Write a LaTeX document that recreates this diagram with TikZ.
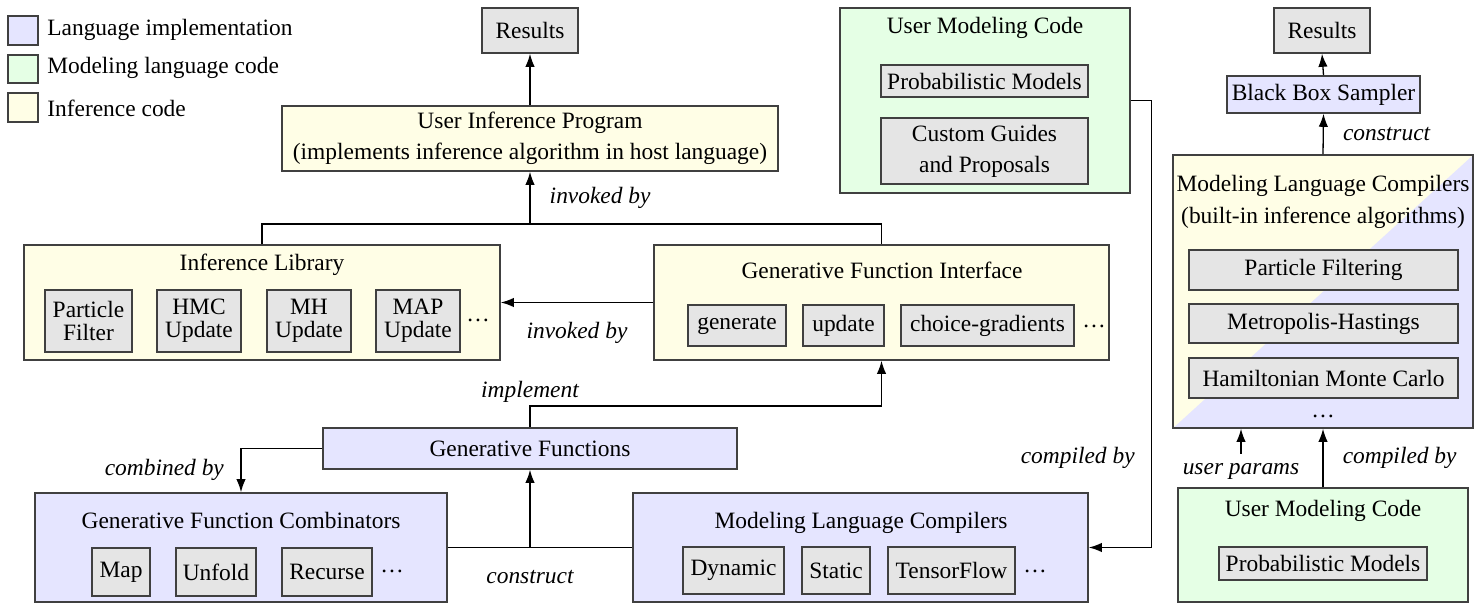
\documentclass[tikz,border=0pt]{standalone}
\usepackage{fontspec}
\setmainfont{Liberation Serif}
\usepackage{tikz}
\usepackage{xcolor}
\usetikzlibrary{arrows.meta}

\newcommand\unitpx{0.0135cm}
\newcommand\figfont{\fontsize{9}{12}\selectfont}

\tikzset{
	box/.style={draw=black!75, line width=0.6pt, inner sep=0pt, align=center},
	sz/.style 2 args={minimum width=#1*\unitpx, minimum height=#2*\unitpx},
	langimpl/.style={box, fill=blue!10},
	modcode/.style={box, fill=green!10},
	infcode/.style={box, fill=yellow!10},
	item/.style={box, fill=black!10},
	splitfill/.style={box, fill=blue!10, path picture={
		\fill[yellow!10] (path picture bounding box.south west) -- (path picture bounding box.north west)
		-- (path picture bounding box.north east) -- cycle;}},
	lbl/.style={font=\figfont\itshape},
	>={Latex[length=5pt,width=3.6pt]}
}

\begin{document}
\begin{tikzpicture}[x=\unitpx, y=-\unitpx, font=\figfont, line width=0.5pt]
		\useasboundingbox (0,0) rectangle (1475,609);
		% legend
		\node[langimpl, sz={30}{29}] (keyimpl) at (23,30.5) {};
		\node[modcode, sz={30}{28}] (keymod) at (23,69) {};
		\node[infcode, sz={30}{29}] (keyinf) at (23,107.5) {};
		\node[anchor=west] (keyimpltxt) at (38,30) {Language implementation};
		\node[anchor=west] (keymodtxt) at (38,68) {Modeling language code};
		\node[anchor=west] (keyinftxt) at (38,108) {Inference code};

		% inference side
		\node[item, sz={96}{45}] (resl) at (530,30.5) {Results};
		\node[infcode, sz={496}{65}] (uip) at (530,138.5) {User Inference Program\\(implements inference algorithm in host language)};

		\node[infcode, sz={476}{115}] (infl) at (262,302.5) {};
		\node (infltitle) at (262,265) {Inference Library};
		\node[item, sz={87}{62}] (pf) at (88.5,321) {Particle\\[-3pt]Filter};
		\node[item, sz={84}{62}] (hmc) at (199,321) {HMC\\[-3pt]Update};
		\node[item, sz={84}{62}] (mh) at (309,321) {MH\\[-3pt]Update};
		\node[item, sz={84}{62}] (map) at (418,321) {MAP\\[-3pt]Update};
		\node (infldots) at (478,320) {\dots};

		\node[infcode, sz={455}{115}] (gfi) at (881.5,302.5) {};
		\node (gfititle) at (882,270) {Generative Function Interface};
		\node[item, sz={98}{41}] (gen) at (737,325.5) {generate};
		\node[item, sz={81}{41}] (upd) at (843.5,325.5) {update};
		\node[item, sz={173}{41}] (cgrad) at (987.5,325.5) {choice-gradients};
		\node (gfidots) at (1094,326) {\dots};

		% generative functions
		\node[langimpl, sz={414}{41}] (gf) at (530,448.5) {Generative Functions};

		\node[langimpl, sz={412}{109}] (gfc) at (241,547.5) {};
		\node (gfctitle) at (241,520) {Generative Function Combinators};
		\node[item, sz={58}{48}] (cmap) at (121,572) {Map};
		\node[item, sz={80}{48}] (cunfold) at (216,572) {Unfold};
		\node[item, sz={90}{48}] (crec) at (327,572) {Recurse};
		\node (gfcdots) at (392,571) {\dots};

		\node[langimpl, sz={455}{109}] (mlc) at (860.5,547.5) {};
		\node (mlctitle) at (861,523) {Modeling Language Compilers};
		\node[item, sz={101}{47}] (dyn) at (733.5,570.5) {Dynamic};
		\node[item, sz={68}{47}] (stat) at (836,570.5) {Static};
		\node[item, sz={127}{47}] (tflow) at (951.5,570.5) {TensorFlow};
		\node (mlcdots) at (1035,571) {\dots};

		% user modeling code
		\node[modcode, sz={290}{185}] (umc) at (985,100.5) {};
		\node (umctitle) at (985,28) {User Modeling Code};
		\node[item, sz={207}{32}] (pm) at (984.5,81) {Probabilistic Models};
		\node[item, sz={207}{66}] (cgp) at (984.5,151) {Custom Guides\\and Proposals};

		% black box side
		\node[item, sz={96}{45}] (resr) at (1322,30.5) {Results};
		\node[langimpl, sz={193}{37}] (bbs) at (1323.5,94.5) {Black Box Sampler};
		\node[splitfill, sz={300}{273}] (mlcr) at (1323,291.5) {};
		\node[align=center] (mlcrtitle) at (1323,202) {Modeling Language Compilers\\(built-in inference algorithms)};
		\node[item, sz={269}{40}] (pfilt) at (1323.5,270) {Particle Filtering};
		\node[item, sz={269}{39}] (mhast) at (1323.5,323.5) {Metropolis-Hastings};
		\node[item, sz={269}{40}] (hmcarlo) at (1323.5,378) {Hamiltonian Monte Carlo};
		\node (mlcrdots) at (1323,416) {\dots};
		\node[modcode, sz={290}{114}] (umcr) at (1323,545) {};
		\node (umcrtitle) at (1323,511) {User Modeling Code};
		\node[item, sz={208}{33}] (pmr) at (1323,563.5) {Probabilistic Models};
		\node[lbl] (upar) at (1241,471) {user params};

		% connectors
		\draw [->] (uip.north) -- (resl.south);
		\coordinate (invk) at (530,224);
		\draw (infl.north) |- (invk) -| (gfi.north);
		\draw [->] (invk) -- (uip.south) node [lbl, midway, right=4pt] {invoked by};
		\draw [->] (gfi.west) -- (infl.east) node [lbl, midway, below=4pt] {invoked by};
		\coordinate (impl) at (530,406);
		\draw [->] (gf.north) -- (impl) -| (gfi.south);
		\node [lbl, above, inner sep=1pt] (impltxt) at (impl) {implement};
		\draw [->] (gf.west) -| (gfc.north) node [lbl, pos=0.75, left=3pt] {combined by};
		\draw (gfc.east) -- (mlc.west);
		\coordinate (cons) at (gf.south |- gfc.east);
		\draw [->] (cons) -- (gf.south);
		\node [lbl, below=5pt] (constxt) at (cons) {construct};
		\draw [->] (umc.east) -- ++(21,0) |- (mlc.east) node [lbl, pos=0.4, left=3pt] {compiled by};
		\draw [->] (bbs.north) -- (resr.south);
		\draw [->] (mlcr.north) -- (bbs.south) node [lbl, midway, right=4pt] {construct};
		\draw [->] (umcr.north) -- (mlcr.south) node [lbl, midway, right=4pt] {compiled by};
		\draw [->] (upar.north) -- (upar.north |- mlcr.south);
\end{tikzpicture}
\end{document}
